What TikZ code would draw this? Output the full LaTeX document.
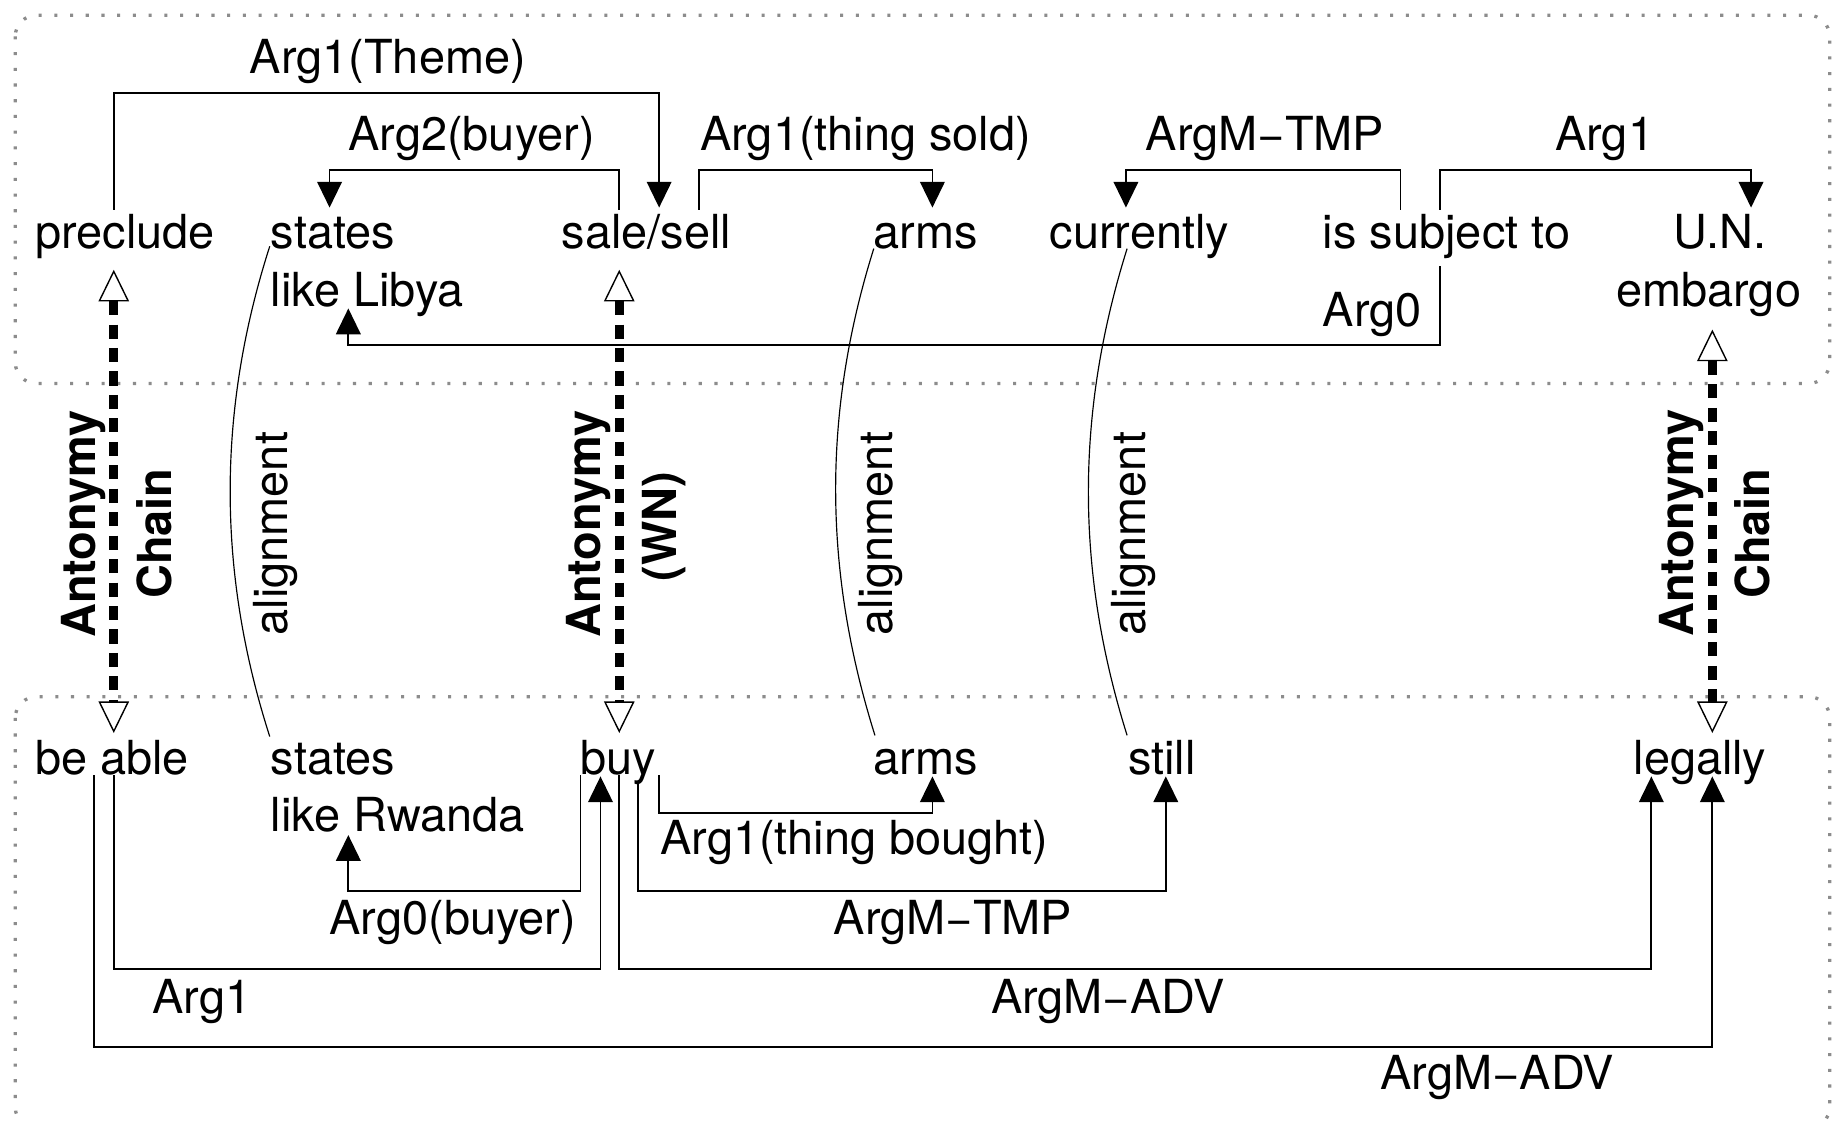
\documentclass[tikz,border=0pt]{standalone}
\usepackage{fontspec}
\setmainfont{TeX Gyre Heros}
\usetikzlibrary{arrows.meta,calc}

\begin{document}
\begin{tikzpicture}[x=0.5pt,y=-0.5pt,
  word/.style={anchor=base west, inner sep=0pt, outer sep=0pt, font=\fontsize{20}{24}\selectfont},
  vlabel/.style={anchor=base, rotate=90, inner sep=0pt, outer sep=0pt, font=\fontsize{20}{24}\selectfont},
  chainlabel/.style={vlabel, font=\fontsize{20}{24}\selectfont\bfseries},
  rel/.style={line width=0.75pt, -{Triangle[length=11pt,width=10.5pt]}},
  align line/.style={line width=0.5pt},
  antonym/.style={line width=3.8pt, dash pattern=on 6pt off 4pt,
    {Triangle[open,length=13.5pt,width=13pt,line width=0.6pt]}-{Triangle[open,length=13.5pt,width=13pt,line width=0.6pt]}},
  panel/.style={draw=black!45, line width=1.4pt, dash pattern=on 1.3pt off 5.4pt, rounded corners=9pt},
]
\useasboundingbox (0,0) rectangle (1568,956);
\fill[white] (0,0) rectangle (1568,956);

% sentence panels
\draw[panel] (13,13) rectangle (1560,327);
\draw[panel] (13,594) rectangle (1560,962);

% upper sentence
\node[word] (pre)  at (30,212)   {preclude};
\node[word] (st1)  at (231,212)  {states};
\node[word] (lib)  at (231,261)  {like Libya};
\node[word] (sale) at (479,212)  {sale/sell};
\node[word] (arm1) at (745,212)  {arms};
\node[word] (cur)  at (895,212)  {currently};
\node[word] (isj)  at (1128,212) {is subject to};
\node[word] (un)   at (1427,212) {U.N.};
\node[word] (emb)  at (1378,261) {embargo};

% lower sentence
\node[word] (able)  at (30,660)   {be able};
\node[word] (st2)   at (231,660)  {states};
\node[word] (rw)    at (231,709)  {like Rwanda};
\node[word] (buy)   at (495,660)  {buy};
\node[word] (arm2)  at (745,660)  {arms};
\node[word] (still) at (962,660)  {still};
\node[word] (leg)   at (1393,660) {legally};

% role labels, upper sentence
\node[word] (lTheme)  at (213,63)   {Arg1(Theme)};
\node[word] (lBuyer)  at (297,128)  {Arg2(buyer)};
\node[word] (lSold)   at (597,128)  {Arg1(thing sold)};
\node[word] (lTmpTop) at (977,128)  {ArgM\char"2212 TMP};
\node[word] (lEmb)    at (1326,128) {Arg1};
\node[word] (lAgent)  at (1128,278) {Arg0};

% role labels, lower sentence
\node[word] (lBought) at (563,729)  {Arg1(thing bought)};
\node[word] (lBuyer2) at (281,797)  {Arg0(buyer)};
\node[word] (lTmpBot) at (711,797)  {ArgM\char"2212 TMP};
\node[word] (lAble)   at (130,864)  {Arg1};
\node[word] (lAdv1)   at (845,864)  {ArgM\char"2212 ADV};
\node[word] (lAdv2)   at (1177,929) {ArgM\char"2212 ADV};

% argument arcs, upper sentence
\draw[rel] ($(pre.base west)+(67,-33)$) -- ++(0,-100) -| ($(sale.base west)+(83,-35)$);
\draw[rel] ($(sale.base west)+(49,-33)$) -- ++(0,-34) -| ($(st1.base west)+(50,-35)$);
\draw[rel] ($(sale.base west)+(117,-33)$) -- ++(0,-34) -| ($(arm1.base west)+(50,-35)$);
\draw[rel] ($(isj.base west)+(66,-33)$) -- ++(0,-34) -| ($(cur.base west)+(65,-35)$);
\draw[rel] ($(isj.base west)+(100,-33)$) -- ++(0,-34) -| ($(un.base west)+(66,-35)$);
\draw[rel] ($(isj.base west)+(100,15)$) -- ++(0,67) -| ($(lib.base west)+(66,2)$);

% argument arcs, lower sentence
\draw[rel] ($(buy.base west)+(0,1)$) -- ++(0,99) -| ($(rw.base west)+(66,3)$);
\draw[rel] ($(able.base west)+(67,1)$) -- ++(0,165) -| ($(buy.base west)+(17,2)$);
\draw[rel] ($(able.base west)+(50,1)$) -- ++(0,232) -| ($(leg.base west)+(67,2)$);
\draw[rel] ($(buy.base west)+(67,1)$) -- ++(0,32) -| ($(arm2.base west)+(50,2)$);
\draw[rel] ($(buy.base west)+(49,8)$) -- ++(0,92) -| ($(still.base west)+(32,2)$);
\draw[rel] ($(buy.base west)+(33,1)$) -- ++(0,165) -| ($(leg.base west)+(15,2)$);

% antonymy links
\draw[antonym] ($(pre.base west)+(67,18)$) -- ($(able.base west)+(67,-35)$);
\draw[antonym] ($(sale.base west)+(49,18)$) -- ($(buy.base west)+(33,-35)$);
\draw[antonym] ($(emb.base west)+(82,20)$) -- ($(leg.base west)+(67,-35)$);

\node[chainlabel] (ant1) at (81,447)   {Antonymy};
\node[chainlabel] (ch1)  at (146,455)  {Chain};
\node[chainlabel] (ant2) at (512,447)  {Antonymy};
\node[chainlabel] (wn)   at (577,449)  {(WN)};
\node[chainlabel] (ant3) at (1444,446) {Antonymy};
\node[chainlabel] (ch3)  at (1509,455) {Chain};

% alignment links
\draw[align line] ($(st1.base west)+(-1,-2)$) .. controls +(-45,140) and +(-45,-140) .. ($(st2.base west)+(-1,-32)$);
\draw[align line] ($(arm1.base west)+(0,0)$) .. controls +(-44,140) and +(-44,-140) .. ($(arm2.base west)+(1,-33)$);
\draw[align line] ($(cur.base west)+(66,0)$) .. controls +(-44,140) and +(-44,-140) .. ($(still.base west)+(-1,-33)$);

\node[vlabel] (al1) at (245,455) {alignment};
\node[vlabel] (al2) at (761,455) {alignment};
\node[vlabel] (al3) at (977,455) {alignment};
\end{tikzpicture}
\end{document}
